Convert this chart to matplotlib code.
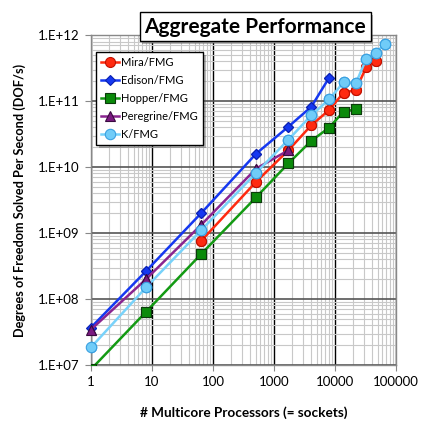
import math
import matplotlib
matplotlib.use("Agg")
import matplotlib.pyplot as plt
import matplotlib.ticker as plticker
import matplotlib.patheffects as pe

plt.rcParams['font.family'] = ['Lato', 'DejaVu Sans']

# data (sockets, DOF/s)
mira_x = [64, 512, 1728, 4096, 8000, 13824, 21952, 32768, 46656]
mira_y = [7.6e8, 6.0e9, 1.8e10, 4.3e10, 7.3e10, 1.34e11, 1.47e11, 3.3e11, 4.1e11]

edison_x = [1, 8, 64, 512, 1728, 4096, 8000]
edison_y = [3.7e7, 2.65e8, 2.0e9, 1.6e10, 4.1e10, 8.2e10, 2.25e11]

hopper_x = [1, 8, 64, 512, 1728, 4096, 8000, 13824, 21952]
hopper_y = [8.6e6, 6.4e7, 4.8e8, 3.5e9, 1.14e10, 2.5e10, 3.95e10, 6.9e10, 7.5e10]

peregrine_x = [1, 8, 64, 512, 1728]
peregrine_y = [3.45e7, 2.0e8, 1.33e9, 9.5e9, 1.8e10]

k_x = [1, 8, 64, 512, 1728, 4096, 8000, 13824, 21952, 32768, 46656, 65536]
k_y = [1.85e7, 1.5e8, 1.1e9, 8.2e9, 2.6e10, 6.1e10, 1.06e11, 1.92e11, 1.85e11, 4.4e11, 5.4e11, 7.3e11]

series = [
    (mira_x, mira_y, 'o', 'Mira/FMG', dict(color='#ff2a10', ms=7.2, mfc='#ff2a10', mec='#c01000'), 3),
    (edison_x, edison_y, 'D', 'Edison/FMG', dict(color='#1538f0', ms=5.5, mfc='#1538f0', mec='#0a20b0'), 3),
    (hopper_x, hopper_y, 's', 'Hopper/FMG', dict(color='#139a13', ms=7, mfc='#0a8a0a', mec='#0b3b0b'), 3),
    (peregrine_x, peregrine_y, '^', 'Peregrine/FMG', dict(color='#8a2590', ms=7, mfc='#7a1a80', mec='#3a0a40'), 4),
    (k_x, k_y, 'o', 'K/FMG', dict(color='#78d2fa', ms=7.5, mfc='#70ccf8', mec='#3aa0e0'), 4),
]

fig = plt.figure(figsize=(4.23, 4.23), dpi=100)
ax = fig.add_axes([0.215, 0.137, 0.721, 0.78])

for xs, ys, mk, lab, st, z in series:
    ax.plot(xs, ys, '-' + mk, lw=1.8, mew=0.8, label=lab, zorder=z, **st)
    # markers on the frame are not clipped in the original
    inx = [x for x, y in zip(xs, ys) if y >= 1e7]
    iny = [y for y in ys if y >= 1e7]
    ax.plot(inx, iny, mk, mew=0.8, zorder=z + 0.5, clip_on=False, **st)

ax.set_xscale('log')
ax.set_yscale('log')
ax.set_xlim(1, 100000)
ax.set_ylim(1e7, 1e12)

ax.xaxis.set_major_locator(plticker.LogLocator(base=10, numticks=10))
ax.yaxis.set_major_locator(plticker.LogLocator(base=10, numticks=10))
ax.xaxis.set_major_formatter(plticker.FuncFormatter(lambda v, p: '%d' % v))
ax.yaxis.set_major_formatter(plticker.FuncFormatter(lambda v, p: '1.E+%02d' % round(math.log10(v))))

ax.grid(which='minor', color='#c8c8c8', lw=0.8)
ax.grid(which='major', axis='x', color='black', lw=1.0)
ax.grid(which='major', axis='y', color='#555555', lw=1.2)
ax.set_axisbelow(True)
ax.tick_params(which='minor', length=0)
ax.tick_params(which='major', length=4, color='#888888', labelsize=9.5, pad=4)
for s in ax.spines.values():
    s.set_color('#888888')
    s.set_linewidth(1.0)

ax.set_xlabel('# Multicore Processors (= sockets)', fontsize=9.8, fontweight='bold', labelpad=13)
ax.set_ylabel('Degrees of Freedom Solved Per Second (DOF/s)', fontsize=9.2, fontweight='bold', labelpad=9)

leg = ax.legend(loc='upper left', bbox_to_anchor=(0.018, 0.948), fontsize=8,
                fancybox=False, framealpha=1, edgecolor='black',
                borderpad=0.45, labelspacing=0.62, handlelength=1.6, handletextpad=0.2,
                borderaxespad=0)
leg.get_frame().set_linewidth(1.0)
leg.get_frame().set_path_effects([pe.SimplePatchShadow(offset=(2, -2), alpha=0.4), pe.Normal()])
leg.set_zorder(10)

fig.text(0.603, 0.937, 'Aggregate Performance', ha='center', va='center',
         fontsize=15, fontweight='bold',
         bbox=dict(boxstyle='square,pad=0.22', fc='white', ec='black', lw=1.0,
                   path_effects=[pe.SimplePatchShadow(offset=(2, -2), alpha=0.4), pe.Normal()]))

fig.savefig('out.png', dpi=100)
